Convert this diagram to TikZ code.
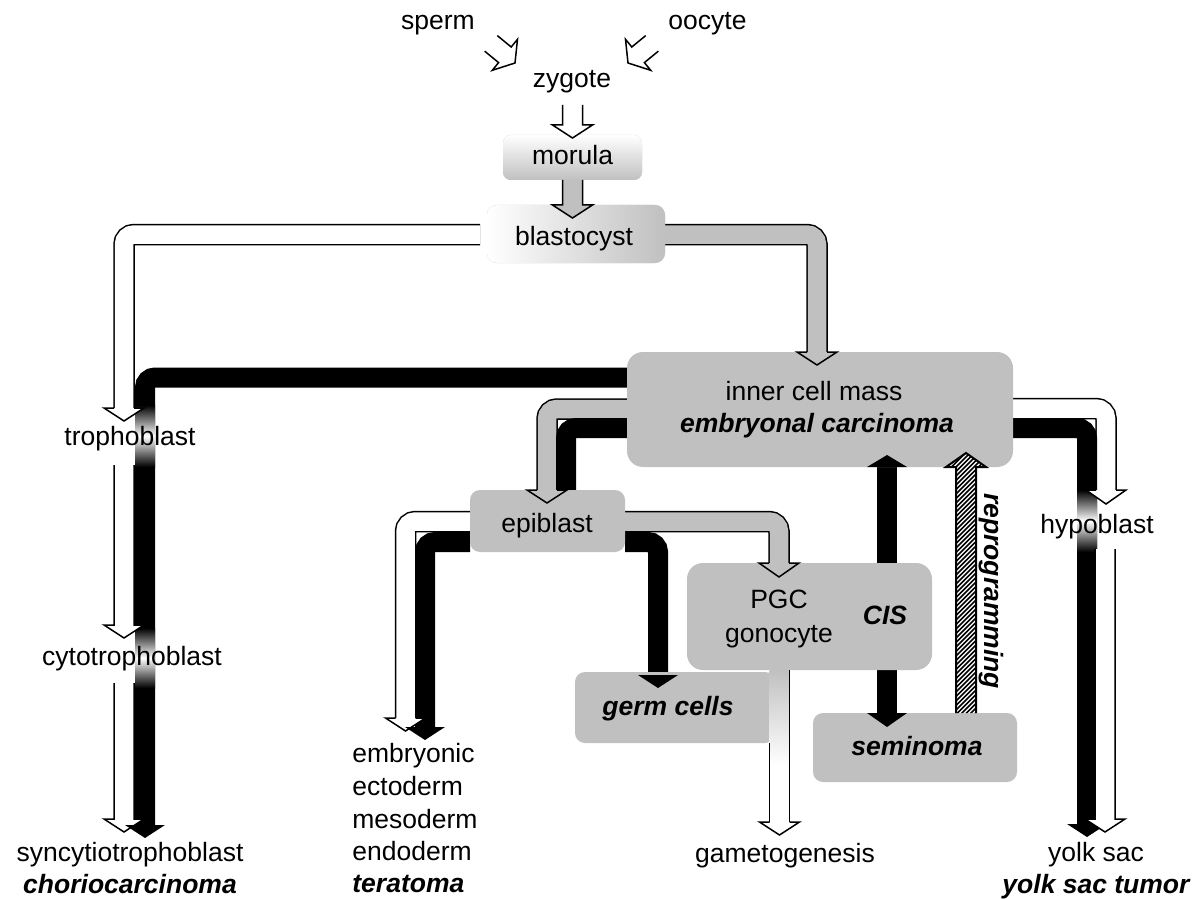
\documentclass[tikz,border=0pt]{standalone}
\usepackage{fontspec}
\setmainfont{Liberation Sans}
\definecolor{boxgray}{RGB}{192,192,192}
\newcommand\downarrowfat[4]{\draw[outl, fill=#4] (#1-10,#2) -- (#1-10,#3-13) -- (#1-20,#3-13) -- (#1,#3) -- (#1+20,#3-13) -- (#1+10,#3-13) -- (#1+10,#2);}
\newcommand\headdown[4]{\draw[outl, fill=#4] (#1-10,#2) -- (#1-20,#2) -- (#1,#3) -- (#1+20,#2) -- (#1+10,#2);}
\newcommand\blackhead[3]{\fill[black] (#1-20,#2) -- (#1,#3) -- (#1+20,#2) -- cycle;}
\begin{document}
\begin{tikzpicture}[x=0.5pt,y=-0.5pt,
  font=\fontsize{13.25}{16}\selectfont,
  txt/.style={anchor=base, inner sep=0pt},
  bi/.style={anchor=base, inner sep=0pt, font=\fontsize{13.25}{16}\selectfont\bfseries\itshape},
  box/.style={fill=boxgray, draw=none, inner sep=0pt},
  outl/.style={line width=0.75pt, line join=miter, draw=black},
  hollow/.style={draw=black, double=white, double distance=9.25pt, line width=0.75pt, rounded corners=5pt},
  grayshaft/.style={draw=black, double=boxgray, double distance=9.25pt, line width=0.75pt, rounded corners=5pt},
  blackshaft/.style={draw=black, line width=10pt, rounded corners=5pt},
  fade/.style={top color=black, bottom color=black, middle color=white}
]
\useasboundingbox (0,0) rectangle (1195,899);
\fill[white] (0,0) rectangle (1195,899);

% ---------- shafts (behind boxes)
\draw[hollow] (480,234.5) -| (124,408);
\draw[grayshaft] (665,234.5) -| (817,352);
\draw[blackshaft] (628,377.5) -| (145,825);
\draw[grayshaft] (628,409) -| (547,490);
\draw[blackshaft] (628,428) -| (566,495);
\draw[hollow] (470,521.5) -| (405.5,718);
\draw[blackshaft] (470,542) -| (425,727);
\draw[grayshaft] (625,521.5) -| (779,563);
\draw[blackshaft] (625,542) -| (658,675);
\draw[blackshaft] (887,467) -- (887,713);
\draw[hollow] (1013,408.5) -| (1106,490);
\draw[blackshaft] (1013,428) -| (1087,824);

% fades of black shafts behind labels
\shade[fade] (135,405) rectangle (155,467);
\shade[fade] (135,628) rectangle (155,688);
\shade[fade] (1077,490) rectangle (1097,552);

% left column hollow arrows
\downarrowfat{124}{465}{638}{white}
\downarrowfat{124}{683}{832}{white}

% ---------- boxes
\node[box, rounded corners=4pt, top color=white, bottom color=boxgray, minimum width=69.5pt, minimum height=22.5pt] (morula) at (572.5,157.5) {};
\node[box, rounded corners=5pt, left color=white, right color=boxgray, minimum width=89pt, minimum height=29pt] (blast) at (576,234) {};
\node[box, rounded corners=8pt, minimum width=193pt, minimum height=57.5pt] (icm) at (820,409.5) {};
\node[box, rounded corners=5pt, minimum width=77.5pt, minimum height=31pt] (epi) at (547.5,521) {};
\node[box, rounded corners=8pt, minimum width=122.5pt, minimum height=53.5pt] (pgc) at (809.5,616.5) {};
\node[box, rounded corners=5pt, minimum width=100pt, minimum height=35.5pt] (germ) at (675,707.5) {};
\node[box, rounded corners=5pt, minimum width=102pt, minimum height=34.5pt] (sem) at (915,747.5) {};

% gametogenesis arrow
\shade[top color=boxgray, bottom color=white] (769.5,670) rectangle (789.5,765);
\draw[outl] (789.5,670) -- (789.5,822);
\draw[outl] (769.5,743) -- (769.5,822);
\headdown{779.5}{822}{835}{white}

% ---------- heads
\draw[outl, fill=white] (497.3,35.6) -- (511.2,47.0) -- (517.5,39.3) -- (515,63) -- (492.3,70.3) -- (498.6,62.6) -- (484.7,51.2);
\draw[outl, fill=white] (645.7,35.6) -- (631.8,47.0) -- (625.5,39.3) -- (628,63) -- (650.7,70.3) -- (644.4,62.6) -- (658.3,51.2);
\downarrowfat{572.5}{105}{138}{white}
\downarrowfat{572.5}{180}{218}{boxgray}
\headdown{124}{408}{421}{white}
\headdown{817}{352}{365}{boxgray}
\headdown{547}{490}{503}{boxgray}
\headdown{405.5}{718}{731}{white}
\blackhead{425}{727}{740}
\headdown{779}{563}{577}{boxgray}
\blackhead{658}{675}{688}
\blackhead{887}{467}{455}
\blackhead{887}{713}{727}
\blackhead{145}{825}{838}
\headdown{1106}{490}{504}{white}
\blackhead{1087}{824}{837}
\downarrowfat{1105}{549}{832}{white}

% reprogramming (hatched)
\begin{scope}
  \clip (956,713) -- (956,467) -- (946,467) -- (966,453) -- (986,467) -- (976,467) -- (976,713) -- cycle;
  \fill[white] (940,440) rectangle (995,720);
  \foreach \i in {0,...,80} \draw[line width=0.8pt] (640+4.5*\i,720) -- ++(300,-300);
\end{scope}
\draw[line width=1pt, line join=miter] (956,713) -- (956,467) -- (946,467) -- (966,453) -- (986,467) -- (976,467) -- (976,713);

% ---------- texts
\node[txt] (sperm) at (438,30) {sperm};
\node[txt] (oocyte) at (707.5,30) {oocyte};
\node[txt] (zygote) at (572,88) {zygote};
\node[txt] at (572.5,165) {morula};
\node[txt] at (574,245) {blastocyst};
\node[txt] at (814,400) {inner cell mass};
\node[bi] at (817,432) {embryonal carcinoma};
\node[txt] (tropho) at (130,445) {trophoblast};
\node[txt] (cyto) at (132,665) {cytotrophoblast};
\node[txt] (syn) at (130,861) {syncytiotrophoblast};
\node[bi] at (130,893) {choriocarcinoma};
\node[txt] at (547,532) {epiblast};
\node[txt, anchor=base west] (emb) at (352,762) {embryonic};
\node[txt, anchor=base west] at (352,795) {ectoderm};
\node[txt, anchor=base west] at (352,828) {mesoderm};
\node[txt, anchor=base west] at (352,860) {endoderm};
\node[bi, anchor=base west] at (352,892) {teratoma};
\node[txt] at (779,608) {PGC};
\node[txt] at (779,642) {gonocyte};
\node[bi] at (885,624) {CIS};
\node[bi] at (668,715) {germ cells};
\node[bi] at (917,755) {seminoma};
\node[txt] (gam) at (785,862) {gametogenesis};
\node[txt] (hypo) at (1097,533) {hypoblast};
\node[txt] (yolk) at (1096,861) {yolk sac};
\node[bi] at (1096,893) {yolk sac tumor};
\node[inner sep=0pt, rotate=-90, font=\fontsize{13.25}{16}\selectfont\bfseries\itshape] (repro) at (991,591) {reprogramming};
\end{tikzpicture}
\end{document}
